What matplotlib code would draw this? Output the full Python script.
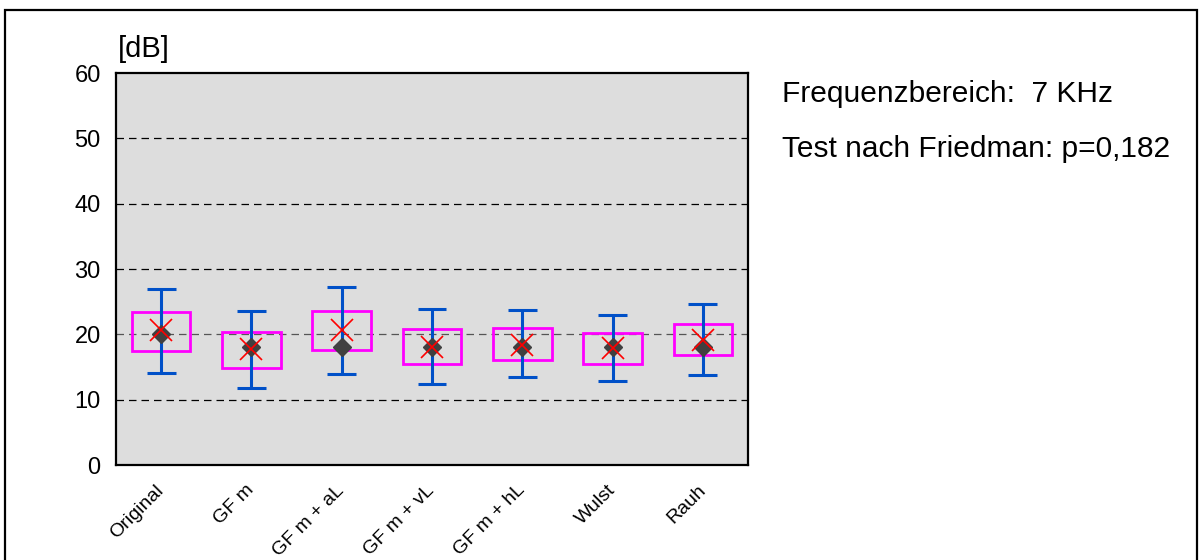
import matplotlib.pyplot as plt
from matplotlib.patches import Rectangle
from matplotlib.transforms import ScaledTranslation

plt.rcParams['font.family'] = ['Liberation Sans', 'DejaVu Sans']

categories = ["Original", "GF m", "GF m + aL", "GF m + vL", "GF m + hL", "Wulst", "Rauh"]
whisker_low = [14.1, 11.8, 14.0, 12.4, 13.4, 12.8, 13.7]
whisker_high = [26.9, 23.6, 27.2, 23.9, 23.8, 22.9, 24.6]
q1 = [17.5, 14.9, 17.6, 15.5, 16.1, 15.4, 16.8]
q3 = [23.4, 20.3, 23.6, 20.8, 21.0, 20.2, 21.6]
median = [20.1, 18.0, 18.0, 18.0, 18.0, 18.0, 18.1]
mean = [20.6, 17.8, 20.7, 18.1, 18.4, 17.9, 19.2]

fig = plt.figure(figsize=(11.99, 5.6), dpi=100)
ax = fig.add_axes([116 / 1199, 1 - 465 / 560, 632 / 1199, 392 / 560])
ax.set_facecolor('#DDDDDD')

x = list(range(len(categories)))

# grid lines
for v in [10, 20, 30, 40, 50]:
    ax.axhline(v, color='#555555' if v == 20 else 'black', lw=0.9,
               dashes=(6, 4), zorder=1)

# boxes
heights = [b - a for a, b in zip(q1, q3)]
ax.bar(x, heights, bottom=q1, width=0.65, fill=False,
       edgecolor='#FF00FF', linewidth=2.0, zorder=2)

# whiskers with caps
ax.vlines(x, whisker_low, whisker_high, color='#0050C8', lw=2.2, zorder=3)
ax.hlines(whisker_low, [i - 0.16 for i in x], [i + 0.16 for i in x],
          color='#0050C8', lw=2.2, zorder=3)
ax.hlines(whisker_high, [i - 0.16 for i in x], [i + 0.16 for i in x],
          color='#0050C8', lw=2.2, zorder=3)

ax.plot(x, median, 'D', color='#404040', ms=9.5, zorder=4)
ax.plot(x, mean, 'x', color='#FF0000', ms=16, mew=1.2, zorder=5)

ax.set_xlim(-0.5, len(categories) - 0.5)
ax.set_ylim(0, 60)
ax.set_yticks([0, 10, 20, 30, 40, 50, 60])
ax.tick_params(axis='y', length=0, pad=11, labelsize=17)
ax.set_xticks(x)
ax.set_xticklabels(categories, rotation=45, ha='right', rotation_mode='anchor',
                   fontsize=14)
ax.tick_params(axis='x', length=0, pad=12)
shift = ScaledTranslation(-6 / 100, 0, fig.dpi_scale_trans)
for lab in ax.get_xticklabels():
    lab.set_transform(lab.get_transform() + shift)
for s in ax.spines.values():
    s.set_linewidth(1.6)

fig.text(118 / 1199, 1 - 57 / 560, "[dB]", fontsize=21, va='baseline', ha='left')
fig.text(782 / 1199, 1 - 102 / 560, "Frequenzbereich:  7 KHz", fontsize=21.5,
         va='baseline', ha='left')
fig.text(782 / 1199, 1 - 157 / 560, "Test nach Friedman: p=0,182", fontsize=21.5,
         va='baseline', ha='left')

# outer frame
fig.patches.append(Rectangle((5 / 1199, -0.02), 1192 / 1199, 1.02 - 10 / 560,
                             transform=fig.transFigure, fill=False,
                             edgecolor='black', lw=1.6, clip_on=False))

fig.savefig('out.png', dpi=100)
